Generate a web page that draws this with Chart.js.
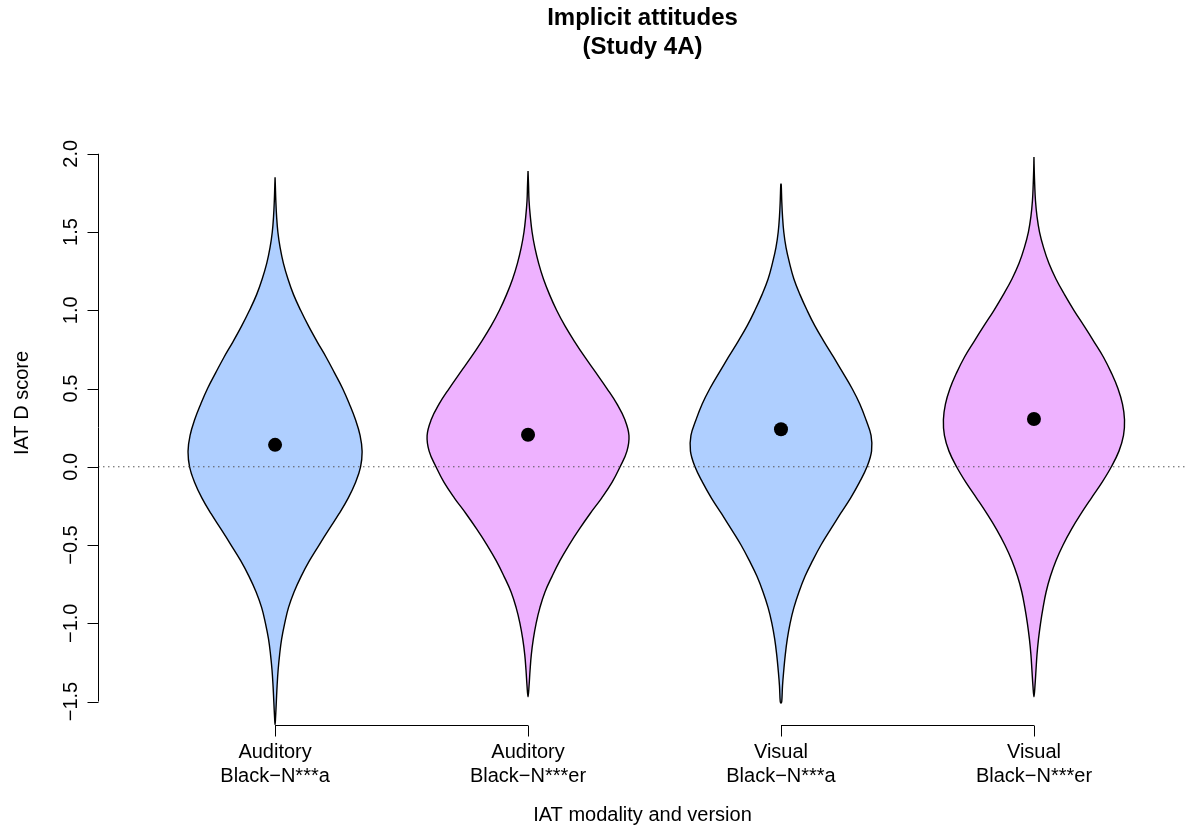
<!DOCTYPE html>
<html>
<head>
<meta charset="utf-8">
<script src="https://cdn.jsdelivr.net/npm/chart.js@4.4.1/dist/chart.umd.min.js"></script>
<style>
  html, body { margin: 0; padding: 0; background: #ffffff; overflow: hidden; }
  #wrap { width: 1193px; height: 830px; position: relative; }
</style>
</head>
<body>
<div id="wrap"><canvas id="chart" width="1193" height="830"></canvas></div>
<script>
// ---- data ---------------------------------------------------------------
const categoryLines = [
  ['Auditory', 'Black\u2212N***a'],
  ['Auditory', 'Black\u2212N***er'],
  ['Visual', 'Black\u2212N***a'],
  ['Visual', 'Black\u2212N***er']
];
const fillColors = ['#AFCFFF', '#EEB2FF', '#AFCFFF', '#EEB2FF'];

// D-score levels at which the kernel density half-widths are tabulated
const levels = [1.9, 1.8, 1.7, 1.6, 1.5, 1.4, 1.3, 1.2, 1.1, 1.0,
                0.9, 0.8, 0.7, 0.6, 0.5, 0.4, 0.3, 0.2, 0.1, 0.0,
                -0.1, -0.2, -0.3, -0.4, -0.5, -0.6, -0.7, -0.8, -0.9, -1.0,
                -1.1, -1.2, -1.3, -1.4, -1.5, -1.6];

// range of observed scores per condition
const maxScore = [1.85, 1.89, 1.81, 1.98];
const minScore = [-1.65, -1.47, -1.51, -1.47];

// violin half-widths (x-axis units) at each level
const widthAudA = [0, 0.001, 0.003, 0.006, 0.011, 0.020, 0.033, 0.051, 0.073, 0.101,
                   0.132, 0.166, 0.202, 0.235, 0.267, 0.294, 0.318, 0.336, 0.344, 0.338,
                   0.318, 0.289, 0.253, 0.213, 0.174, 0.136, 0.103, 0.075, 0.053, 0.038,
                   0.026, 0.018, 0.012, 0.008, 0.005, 0.002];
const widthAudEr = [0, 0.002, 0.004, 0.009, 0.016, 0.027, 0.042, 0.061, 0.085, 0.113,
                    0.146, 0.184, 0.225, 0.269, 0.312, 0.352, 0.383, 0.399, 0.391, 0.364,
                    0.332, 0.291, 0.245, 0.202, 0.162, 0.126, 0.095, 0.067, 0.047, 0.032,
                    0.021, 0.013, 0.008, 0.004, 0, 0];
const widthVisA = [0, 0.001, 0.003, 0.006, 0.011, 0.020, 0.034, 0.051, 0.075, 0.103,
                   0.134, 0.170, 0.208, 0.245, 0.281, 0.312, 0.336, 0.356, 0.358, 0.340,
                   0.310, 0.275, 0.235, 0.196, 0.158, 0.125, 0.095, 0.071, 0.051, 0.036,
                   0.025, 0.017, 0.011, 0.006, 0.003, 0];
const widthVisEr = [0.001, 0.003, 0.006, 0.012, 0.022, 0.038, 0.059, 0.087, 0.121, 0.158,
                    0.198, 0.237, 0.275, 0.306, 0.332, 0.350, 0.358, 0.354, 0.336, 0.306,
                    0.269, 0.227, 0.186, 0.148, 0.115, 0.087, 0.065, 0.048, 0.036, 0.026,
                    0.018, 0.012, 0.008, 0.004, 0, 0];
const halfWidths = [widthAudA, widthAudEr, widthVisA, widthVisEr];

// mean D score per condition
const means = [0.14, 0.205, 0.24, 0.305];

const yTickValues = [-1.5, -1.0, -0.5, 0.0, 0.5, 1.0, 1.5, 2.0];
const yTickLabels = ['\u22121.5', '\u22121.0', '\u22120.5', '0.0', '0.5', '1.0', '1.5', '2.0'];

const titleLines = ['Implicit attitudes', '(Study 4A)'];
const xTitle = 'IAT modality and version';
const yTitle = 'IAT D score';

// ---- outline of one violin, right side down then left side up -----------
function violinOutline(i) {
  const c = i + 1;
  const w = halfWidths[i];
  const right = [{ x: c, y: maxScore[i] }];
  levels.forEach((lv, k) => {
    if (lv < maxScore[i] - 1e-9 && lv > minScore[i] + 1e-9) right.push({ x: c + w[k], y: lv });
  });
  right.push({ x: c, y: minScore[i] });
  const left = right.slice(1, -1).reverse().map(p => ({ x: 2 * c - p.x, y: p.y }));
  return right.concat(left, [{ x: c, y: maxScore[i] }]);
}

const FONT = '"Liberation Sans", Arial, Helvetica, sans-serif';
const xMin = 0.3, xMax = 4.605;
const yMin = -1.65, yMax = 2.465;

const datasets = [];
categoryLines.forEach((_, i) => {
  datasets.push({
    type: 'scatter',
    data: violinOutline(i),
    showLine: true,
    fill: 'shape',
    backgroundColor: fillColors[i],
    borderColor: '#000000',
    borderWidth: 1.4,
    pointRadius: 0,
    tension: 0.4,
    order: 3
  });
});
datasets.push({
  type: 'scatter',
  data: [{ x: xMin, y: 0 }, { x: xMax, y: 0 }],
  showLine: true,
  borderColor: '#555555',
  borderWidth: 1,
  borderDash: [1.5, 3.5],
  pointRadius: 0,
  order: 2
});
datasets.push({
  type: 'scatter',
  data: means.map((m, i) => ({ x: i + 1, y: m })),
  pointRadius: 7,
  pointBackgroundColor: '#000000',
  pointBorderColor: '#000000',
  pointBorderWidth: 0,
  order: 1
});

// axes, tick labels and titles in base-graphics style
const axesPlugin = {
  id: 'baseAxes',
  afterDraw(chart) {
    const ctx = chart.ctx;
    const xs = chart.scales.x, ys = chart.scales.y;
    const area = chart.chartArea;
    const tick = 11;
    ctx.save();
    ctx.strokeStyle = '#000';
    ctx.fillStyle = '#000';
    ctx.lineWidth = 1;

    // y axis
    const ax = Math.round(area.left) + 0.5;
    ctx.beginPath();
    ctx.moveTo(ax, ys.getPixelForValue(yTickValues[0]));
    ctx.lineTo(ax, ys.getPixelForValue(yTickValues[yTickValues.length - 1]));
    yTickValues.forEach(v => {
      const py = Math.round(ys.getPixelForValue(v)) + 0.5;
      ctx.moveTo(ax, py);
      ctx.lineTo(ax - tick, py);
    });
    ctx.stroke();
    ctx.font = '20px ' + FONT;
    ctx.textAlign = 'center';
    ctx.textBaseline = 'alphabetic';
    yTickValues.forEach((v, k) => {
      ctx.save();
      ctx.translate(ax - 22, ys.getPixelForValue(v));
      ctx.rotate(-Math.PI / 2);
      ctx.fillText(yTickLabels[k], 0, 0);
      ctx.restore();
    });

    // x axis, one segment per modality pair
    const ay = Math.round(area.bottom) + 0.5;
    ctx.beginPath();
    [[1, 2], [3, 4]].forEach(([a, b]) => {
      ctx.moveTo(xs.getPixelForValue(a), ay);
      ctx.lineTo(xs.getPixelForValue(b), ay);
    });
    categoryLines.forEach((_, i) => {
      const px = Math.round(xs.getPixelForValue(i + 1)) + 0.5;
      ctx.moveTo(px, ay);
      ctx.lineTo(px, ay + tick);
    });
    ctx.stroke();
    ctx.textBaseline = 'middle';
    categoryLines.forEach((lines, i) => {
      const px = xs.getPixelForValue(i + 1);
      ctx.fillText(lines[0], px, ay + 27);
      ctx.fillText(lines[1], px, ay + 51);
    });

    // axis titles, centred on the plotting region
    const cx = (area.left + area.right) / 2;
    ctx.fillText(xTitle, cx, ay + 90);
    ctx.save();
    ctx.translate(22, (area.top + area.bottom) / 2);
    ctx.rotate(-Math.PI / 2);
    ctx.fillText(yTitle, 0, 0);
    ctx.restore();

    // main title
    ctx.font = 'bold 24px ' + FONT;
    ctx.fillText(titleLines[0], cx, 18);
    ctx.fillText(titleLines[1], cx, 47);
    ctx.restore();
  }
};

new Chart(document.getElementById('chart'), {
  type: 'scatter',
  data: { datasets },
  options: {
    responsive: false,
    animation: false,
    devicePixelRatio: 1,
    layout: { autoPadding: false, padding: { left: 98, right: 6, top: 81, bottom: 105 } },
    scales: {
      x: { type: 'linear', min: xMin, max: xMax, display: false },
      y: { type: 'linear', min: yMin, max: yMax, display: false }
    },
    plugins: { legend: { display: false }, tooltip: { enabled: false } },
    elements: { line: { capBezierPoints: true } }
  },
  plugins: [axesPlugin]
});
</script>
</body>
</html>
